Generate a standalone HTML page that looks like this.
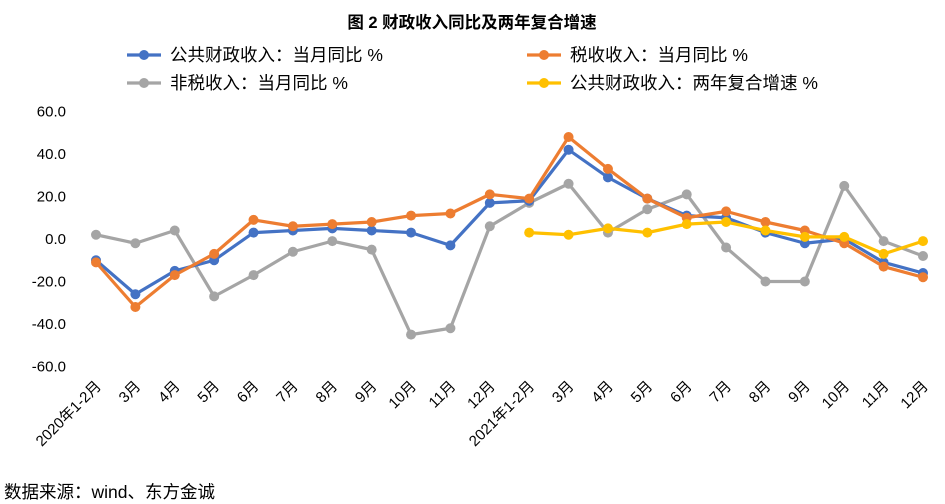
<!DOCTYPE html>
<html><head><meta charset="utf-8"><style>
body{margin:0;background:#fff;}
svg{display:block;font-family:"Liberation Sans","Noto Sans CJK SC",sans-serif;}
</style></head><body>
<svg id="c" width="945" height="504">
<text x="472" y="28" text-anchor="middle" font-size="16.5" font-weight="bold" fill="#000">图 2  财政收入同比及两年复合增速</text>
<g id="legend"></g>
<g id="axis"></g>
<g id="xaxis"></g>
<g id="plot"></g>
<text x="4" y="498" font-size="17.5" fill="#000">数据来源：wind、东方金诚</text>
</svg>
<script>
const categories=["2020年1-2月","3月","4月","5月","6月","7月","8月","9月","10月","11月","12月","2021年1-2月","3月","4月","5月","6月","7月","8月","9月","10月","11月","12月"];
const totalYoY=[-10,-26,-15,-10,3,4,5,4,3,-3,17,18,42,29,19,11,10,3,-2,0,-11,-16];
const taxYoY=[-11,-32,-17,-7,9,6,7,8,11,12,21,19,48,33,19,10,13,8,4,-2,-13,-18];
const nonTaxYoY=[2,-2,4,-27,-17,-6,-1,-5,-45,-42,6,17,26,3,14,21,-4,-20,-20,25,-1,-8];
const twoYearCAGR=[null,null,null,null,null,null,null,null,null,null,null,3,2,5,3,7,8,4,1,1,-7,-1];
const yTicks=[60,40,20,0,-20,-40,-60];
const yTickLabels=["60.0","40.0","20.0","0.0","-20.0","-40.0","-60.0"];
const NS="http://www.w3.org/2000/svg";
function mk(tag,attrs,parent,txt){const e=document.createElementNS(NS,tag);for(const k in attrs)e.setAttribute(k,attrs[k]);if(txt!==undefined)e.textContent=txt;parent.appendChild(e);return e;}
const x=i=>96+i*(923-96)/(categories.length-1);
const y=v=>239-v*2.125;
const axis=document.getElementById('axis'),xaxis=document.getElementById('xaxis'),plot=document.getElementById('plot'),legend=document.getElementById('legend');
yTicks.forEach((t,i)=>{const e=mk('text',{x:66,y:y(t)+5,'text-anchor':'end','font-size':15,fill:'#000'},axis,yTickLabels[i]);

});
categories.forEach((c,i)=>{const e=mk('text',{x:0,y:0,'text-anchor':'end','font-size':15,fill:'#000',transform:`translate(${x(i)+6},${387}) rotate(-45)`},xaxis,c);

});
const series=[
 {name:"公共财政收入：当月同比 %",data:totalYoY,color:"#4472C4",key:"total"},
 {name:"税收收入：当月同比 %",data:taxYoY,color:"#ED7D31",key:"tax"},
 {name:"非税收入：当月同比 %",data:nonTaxYoY,color:"#A5A5A5",key:"nontax"},
 {name:"公共财政收入：两年复合增速 %",data:twoYearCAGR,color:"#FFC000",key:"cagr"}];
const drawOrder=[2,0,1,3];
drawOrder.forEach(si=>{const s=series[si];
 const g=mk('g',{},plot);
 
 
 let d='';s.data.forEach((v,i)=>{if(v===null)return;d+=(d?'L':'M')+x(i)+','+y(v);});
 const p=mk('path',{d:d,fill:'none',stroke:s.color,'stroke-width':3.2,'stroke-linejoin':'round'},g);
 
 
 s.data.forEach((v,i)=>{if(v===null)return;const m=mk('circle',{cx:x(i),cy:y(v),r:5,fill:s.color},g);
  
  });
});
const legPos=[[127,55],[527,55],[127,83],[527,83]];
series.forEach((s,i)=>{const [lx,ly]=legPos[i];const g=mk('g',{},legend);
 
 
 mk('line',{x1:lx,y1:ly,x2:lx+34,y2:ly,stroke:s.color,'stroke-width':3.2},g);
 mk('circle',{cx:lx+17,cy:ly,r:5,fill:s.color},g);
 mk('text',{x:lx+43,y:ly+6,'font-size':17.5,fill:'#000'},g,s.name);});
</script>
</body></html>
